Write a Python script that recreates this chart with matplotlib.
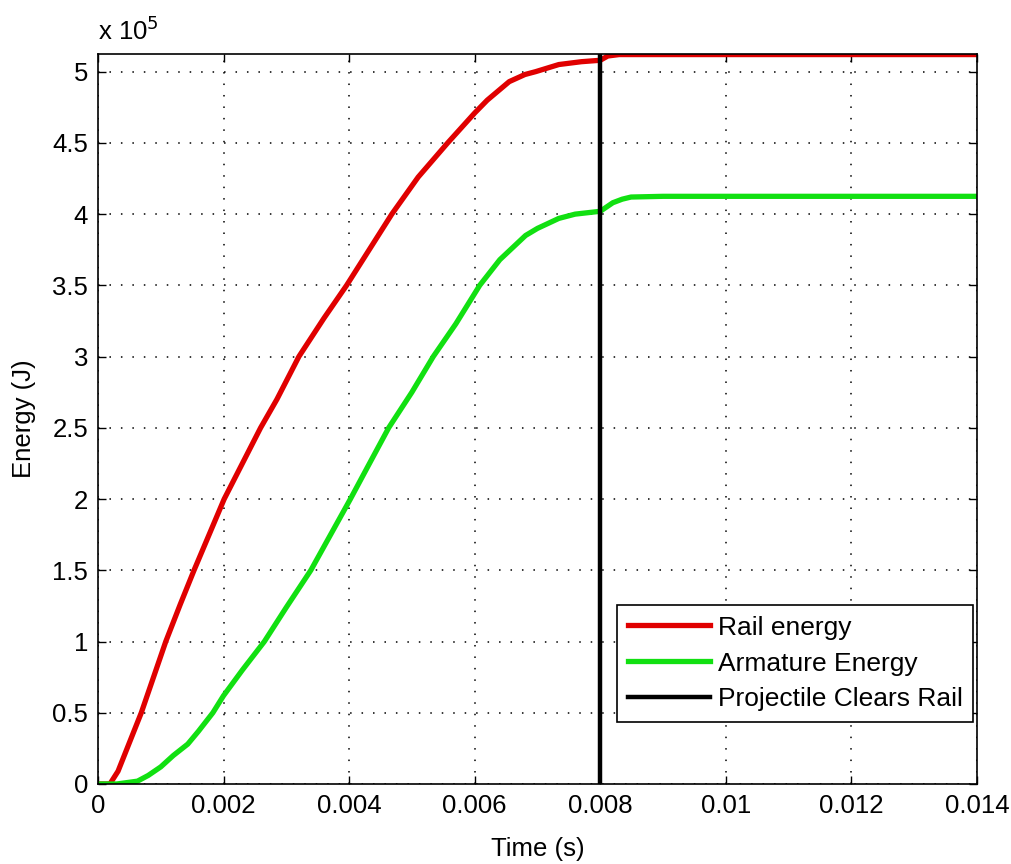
import matplotlib
matplotlib.use('Agg')
import matplotlib.pyplot as plt
from matplotlib.ticker import FuncFormatter

# %% data (energy in units of 1e5 J) ------------------------------------------
t_rail = [0.0, 0.00019, 0.00032, 0.00069, 0.00108, 0.00131, 0.00153, 0.00201,
          0.00259, 0.00285, 0.00320, 0.00360, 0.00396, 0.00468, 0.00510,
          0.00557, 0.00600, 0.00620, 0.00655, 0.00680, 0.00697, 0.00734,
          0.00770, 0.00800, 0.00812, 0.00830, 0.00900, 0.01400]
E_rail = [0.0, 0.0, 0.09, 0.5, 1.0, 1.26, 1.5, 2.0,
          2.5, 2.7, 3.0, 3.27, 3.5, 4.0, 4.26,
          4.5, 4.71, 4.80, 4.93, 4.98, 5.0, 5.05,
          5.07, 5.08, 5.11, 5.12, 5.12, 5.12]

t_arm = [0.0, 0.00030, 0.00063, 0.00080, 0.00100, 0.00120, 0.00143, 0.00160,
         0.00183, 0.00200, 0.00230, 0.00265, 0.00300, 0.00339, 0.00402,
         0.00430, 0.00463, 0.00500, 0.00534, 0.00570, 0.00608, 0.00640,
         0.00681, 0.00700, 0.00734, 0.00760, 0.00800, 0.00820, 0.00835,
         0.00849, 0.00900, 0.01400]
E_arm = [0.0, 0.0, 0.02, 0.06, 0.12, 0.20, 0.28, 0.37,
         0.5, 0.62, 0.80, 1.0, 1.24, 1.5, 2.0,
         2.23, 2.5, 2.75, 3.0, 3.23, 3.5, 3.68,
         3.85, 3.90, 3.97, 4.0, 4.02, 4.08, 4.105,
         4.12, 4.125, 4.125]

t_clear = 0.008

x_ticks = [0, 0.002, 0.004, 0.006, 0.008, 0.01, 0.012, 0.014]
y_ticks = [0, 0.5, 1, 1.5, 2, 2.5, 3, 3.5, 4, 4.5, 5]

# %% figure ---------------------------------------------------------------------
plt.rcParams['font.family'] = ['Liberation Sans', 'DejaVu Sans']
plt.rcParams['font.size'] = 18.5

fig = plt.figure(figsize=(10.12, 8.64), dpi=100)
ax0 = fig.add_axes([0.0968, 0.0926, 0.8686, 0.8449])

ax0.plot(t_rail, E_rail, '-', color='#e00000', lw=3.8, label=u'Rail energy')
ax0.plot(t_arm, E_arm, '-', color='#11e011', lw=3.8, label=u'Armature Energy')
ax0.axvline(t_clear, color='k', lw=3.2, label=u'Projectile Clears Rail')

ax0.set_xlim(0, 0.014)
ax0.set_ylim(0, 5.124)
ax0.set_xticks(x_ticks)
ax0.set_yticks(y_ticks)
ax0.xaxis.set_major_formatter(FuncFormatter(lambda v, p: '%g' % round(v, 4)))
ax0.yaxis.set_major_formatter(FuncFormatter(lambda v, p: '%g' % v))

ax0.grid(True, color='k', ls=(0, (1, 6.5)), lw=1.1)
ax0.tick_params(direction='in', top=True, right=True, length=6, width=1,
                labelsize=18.5, pad=7)
for sp in ax0.spines.values():
    sp.set_linewidth(1.2)

ax0.set_xlabel(u'Time (s)', fontsize=18.5, labelpad=14)
ax0.set_ylabel(u'Energy (J)', fontsize=18.5, labelpad=12)
ax0.text(0.0, 1.012, u'x 10$^5$', transform=ax0.transAxes, fontsize=18.5,
         ha='left', va='bottom')

leg = ax0.legend(loc='lower right', bbox_to_anchor=(0.9955, 0.085),
                 fancybox=False, framealpha=1, edgecolor='k', fontsize=19,
                 handlelength=3.1, handletextpad=0.3, borderpad=0.4,
                 labelspacing=0.45, borderaxespad=0)
leg.get_frame().set_linewidth(1.2)

plt.savefig('out.png', dpi=100)
